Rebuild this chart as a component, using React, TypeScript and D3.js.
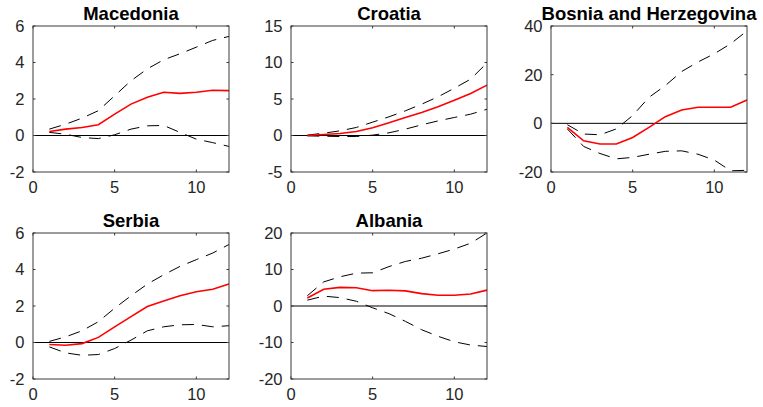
import React from "react";
import * as d3 from "d3";

const horizon = [1, 2, 3, 4, 5, 6, 7, 8, 9, 10, 11, 12];
const xTicks = [0, 5, 10];

const countries = ["Macedonia", "Croatia", "Bosnia and Herzegovina", "Serbia", "Albania"];

const macedoniaMid = [0.22, 0.35, 0.44, 0.59, 1.17, 1.72, 2.09, 2.37, 2.31, 2.37, 2.48, 2.46];
const macedoniaUp = [0.35, 0.62, 0.95, 1.36, 2.18, 3.0, 3.65, 4.15, 4.48, 4.84, 5.21, 5.43];
const macedoniaLo = [0.17, 0.07, -0.11, -0.17, 0.04, 0.35, 0.53, 0.55, 0.17, -0.2, -0.39, -0.6];

const croatiaMid = [0.0, 0.14, 0.27, 0.55, 1.05, 1.74, 2.47, 3.15, 3.93, 4.84, 5.75, 6.9];
const croatiaUp = [0.05, 0.32, 0.64, 1.1, 1.83, 2.56, 3.38, 4.29, 5.3, 6.48, 7.72, 9.95];
const croatiaLo = [-0.05, -0.1, -0.14, -0.14, 0.05, 0.37, 0.87, 1.46, 2.0, 2.47, 2.92, 3.6];

const bosniaMid = [-1.65, -7.2, -8.5, -8.5, -5.8, -1.65, 2.75, 5.5, 6.6, 6.6, 6.6, 9.6];
const bosniaUp = [-0.55, -4.4, -4.7, -2.3, 3.2, 10.7, 15.5, 21.3, 25.2, 28.6, 32.7, 38];
const bosniaLo = [-2.3, -9.5, -12.4, -14.6, -14, -12.7, -11.5, -11.3, -12.7, -15.1, -19.5, -19.3];

const serbiaMid = [-0.11, -0.15, -0.06, 0.28, 0.86, 1.42, 1.97, 2.28, 2.56, 2.78, 2.92, 3.2];
const serbiaUp = [0.06, 0.31, 0.64, 1.14, 1.88, 2.56, 3.2, 3.71, 4.17, 4.54, 4.9, 5.37];
const serbiaLo = [-0.24, -0.57, -0.7, -0.66, -0.33, 0.13, 0.64, 0.86, 0.97, 0.99, 0.86, 0.92];

const albaniaMid = [2.2, 4.6, 5.1, 5.0, 4.2, 4.3, 4.15, 3.4, 2.95, 2.95, 3.3, 4.35];
const albaniaUp = [2.8, 6.6, 8.0, 9.0, 9.1, 10.8, 12.2, 13.1, 14.3, 15.6, 17.2, 20];
const albaniaLo = [1.6, 2.7, 2.3, 1.3, -0.5, -2.1, -4.2, -6.5, -8.3, -9.8, -10.7, -11.1];

const yTicksMacedonia = [-2, 0, 2, 4, 6];
const yTicksCroatia = [-5, 0, 5, 10, 15];
const yTicksBosnia = [-20, 0, 20, 40];
const yTicksSerbia = [-2, 0, 2, 4, 6];
const yTicksAlbania = [-20, -10, 0, 10, 20];

const panels = [
  { name: countries[0], mid: macedoniaMid, up: macedoniaUp, lo: macedoniaLo, ticks: yTicksMacedonia, col: 0, row: 0 },
  { name: countries[1], mid: croatiaMid, up: croatiaUp, lo: croatiaLo, ticks: yTicksCroatia, col: 1, row: 0 },
  { name: countries[2], mid: bosniaMid, up: bosniaUp, lo: bosniaLo, ticks: yTicksBosnia, col: 2, row: 0 },
  { name: countries[3], mid: serbiaMid, up: serbiaUp, lo: serbiaLo, ticks: yTicksSerbia, col: 0, row: 1 },
  { name: countries[4], mid: albaniaMid, up: albaniaUp, lo: albaniaLo, ticks: yTicksAlbania, col: 1, row: 1 },
];

const colLeft = [33, 291, 551];
const rowTop = [26, 233];
const W = 196;
const H = 146;
const AX = "#3a3a3a";
const FONT = "'Liberation Sans', Arial, Helvetica, sans-serif";

function Panel({ p }: { p: (typeof panels)[number] }) {
  const left = colLeft[p.col];
  const top = rowTop[p.row];
  const x = d3.scaleLinear().domain([0, 12]).range([0, W]);
  const ext = d3.extent(p.ticks) as [number, number];
  const y = d3.scaleLinear().domain(ext).range([H, 0]);
  const line = d3
    .line<number>()
    .x((_, i) => x(horizon[i]))
    .y((d) => y(d));
  const tl = 2.5;
  return (
    <g transform={`translate(${left},${top})`}>
      <line x1={0} x2={W} y1={y(0)} y2={y(0)} stroke="#000" strokeWidth={1} />
      <path d={line(p.up) || ""} fill="none" stroke="#000" strokeWidth={1} strokeDasharray="12,8" />
      <path d={line(p.lo) || ""} fill="none" stroke="#000" strokeWidth={1} strokeDasharray="12,8" />
      <path d={line(p.mid) || ""} fill="none" stroke="#ff0000" strokeWidth={1.6} />
      <rect x={0} y={0} width={W} height={H} fill="none" stroke={AX} strokeWidth={1} />
      {p.ticks.map((t) => (
        <g key={"y" + t}>
          <line x1={0} x2={tl} y1={y(t)} y2={y(t)} stroke={AX} />
          <line x1={W - tl} x2={W} y1={y(t)} y2={y(t)} stroke={AX} />
          <text x={-8.5} y={y(t)} dy="0.36em" textAnchor="end" fontSize={16.5} fill="#262626" fontFamily={FONT}>
            {t}
          </text>
        </g>
      ))}
      {xTicks.map((t) => (
        <g key={"x" + t}>
          <line x1={x(t)} x2={x(t)} y1={H} y2={H - tl} stroke={AX} />
          <line x1={x(t)} x2={x(t)} y1={0} y2={tl} stroke={AX} />
          <text x={x(t)} y={H + 20.5} textAnchor="middle" fontSize={16.5} fill="#262626" fontFamily={FONT}>
            {t}
          </text>
        </g>
      ))}
      <text x={W / 2} y={-6.5} textAnchor="middle" fontSize={18.5} fontWeight="bold" fill="#000" fontFamily={FONT}>
        {p.name}
      </text>
    </g>
  );
}

export default function App() {
  return (
    <svg
      width={763}
      height={407}
      style={{ position: "fixed", left: 0, top: 0, background: "#fff" }}
    >
      <rect width={763} height={407} fill="#fff" />
      {panels.map((p) => (
        <Panel key={p.name} p={p} />
      ))}
    </svg>
  );
}
